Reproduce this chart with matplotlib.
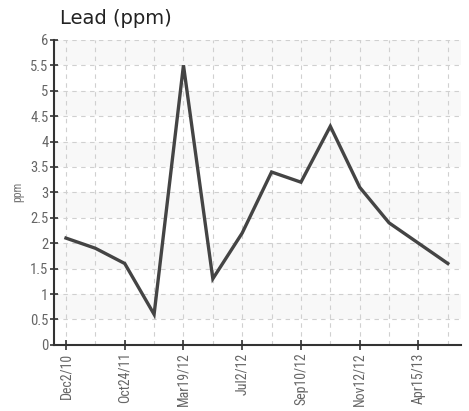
import matplotlib
matplotlib.use("Agg")
import matplotlib.pyplot as plt
from matplotlib.ticker import FixedLocator

# Lead readings (ppm) per sample date
dates = ["Dec2/10", "", "Oct24/11", "", "Mar19/12", "", "Jul2/12", "",
         "Sep10/12", "", "Nov12/12", "", "Apr15/13", ""]
lead_ppm = [2.1, 1.9, 1.6, 0.6, 5.5, 1.3, 2.2, 3.4, 3.2, 4.3, 3.1, 2.4, 2.0, 1.6]
y_ticks = [0, 0.5, 1, 1.5, 2, 2.5, 3, 3.5, 4, 4.5, 5, 5.5, 6]
y_tick_labels = ["0", "0.5", "1", "1.5", "2", "2.5", "3", "3.5", "4", "4.5", "5", "5.5", "6"]

narrow = ["Roboto Condensed", "Liberation Sans Narrow", "DejaVu Sans"]

fig = plt.figure(figsize=(4.69, 4.11), dpi=100)
ax = fig.add_axes([0.115, 0.161, 0.868, 0.742])

x = list(range(len(lead_ppm)))

# alternating background bands
for lo, hi in zip(y_ticks[:-1], y_ticks[1:]):
    if y_ticks.index(lo) % 2 == 1:
        ax.axhspan(lo, hi, color="#f8f8f8", zorder=0, lw=0)

# dashed grid at every point and every half unit
for xi in x:
    ax.axvline(xi, color="#d0d0d0", lw=0.8, ls=(0, (4, 4)), zorder=1)
for yv in y_ticks[1:]:
    ax.axhline(yv, color="#d0d0d0", lw=0.8, ls=(0, (4, 4)), zorder=1)

ax.plot(x, lead_ppm, color="#444444", lw=2.4, solid_joinstyle="miter", zorder=3)

ax.set_xlim(-0.41, 13.45)
ax.set_ylim(0, 6)

major = [i for i, d in enumerate(dates) if d]
ax.xaxis.set_major_locator(FixedLocator(major))
ax.set_xticklabels([dates[i] for i in major], rotation=90, family=narrow,
                   stretch="condensed", fontsize=10, color="#666666")
ax.set_yticks(y_ticks)
ax.set_yticklabels(y_tick_labels, family=narrow, stretch="condensed",
                   fontsize=10.5, color="#666666")
ax.tick_params(axis="y", direction="inout", length=6, width=1.2, color="#333333", pad=1)
ax.tick_params(axis="x", direction="inout", length=7, width=1.2, color="#333333", pad=2)

for side in ["top", "right"]:
    ax.spines[side].set_visible(False)
for side in ["left", "bottom"]:
    ax.spines[side].set_color("#333333")
    ax.spines[side].set_linewidth(1.5)

ax.set_ylabel("ppm", family=narrow, stretch="condensed", fontsize=8.5,
              color="#777777", labelpad=4)
fig.text(0.128, 0.955, "Lead (ppm)", fontsize=14, color="#222222", va="center")

fig.savefig("out.png", dpi=100)
